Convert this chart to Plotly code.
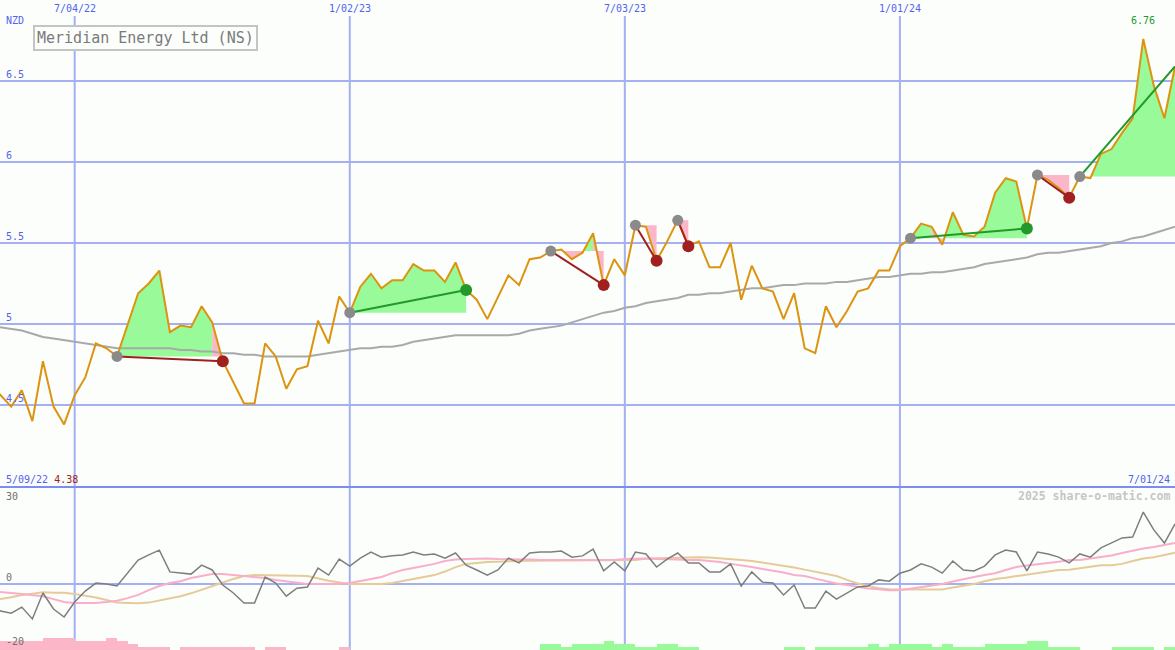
import pandas as pd
import plotly.graph_objects as go

# ---------------- data ----------------
start_date = "2022-05-09"          # first weekly close
view_start = "2022-05-15 14:00"
view_end = "2024-07-01"
title_text = "Meridian Energy Ltd (NS)"
currency = "NZD"

price = [4.62, 4.56, 4.49, 4.59, 4.40, 4.77, 4.49, 4.38, 4.56, 4.67,
         4.88, 4.85, 4.80, 5.00, 5.19, 5.25, 5.33, 4.95, 4.99, 4.98,
         5.11, 5.01, 4.77, 4.64, 4.51, 4.51, 4.88, 4.80, 4.60, 4.72,
         4.74, 5.02, 4.88, 5.17, 5.07, 5.23, 5.31, 5.22, 5.27, 5.27,
         5.37, 5.33, 5.33, 5.26, 5.38, 5.21, 5.15, 5.03, 5.17, 5.30,
         5.24, 5.40, 5.41, 5.45, 5.46, 5.40, 5.44, 5.56, 5.24, 5.40,
         5.30, 5.61, 5.60, 5.39, 5.51, 5.64, 5.48, 5.51, 5.35, 5.35,
         5.50, 5.15, 5.36, 5.22, 5.20, 5.03, 5.19, 4.85, 4.82, 5.11,
         4.98, 5.08, 5.20, 5.22, 5.33, 5.33, 5.48, 5.53, 5.62, 5.60,
         5.49, 5.69, 5.55, 5.54, 5.60, 5.81, 5.90, 5.88, 5.59, 5.92,
         5.89, 5.84, 5.78, 5.91, 5.90, 6.05, 6.08, 6.18, 6.27, 6.76,
         6.47, 6.27, 6.59]

moving_avg = [4.99, 4.98, 4.97, 4.96, 4.94, 4.92, 4.91, 4.90, 4.89, 4.88,
              4.87, 4.86, 4.85, 4.85, 4.85, 4.85, 4.85, 4.85, 4.84, 4.84,
              4.83, 4.83, 4.82, 4.82, 4.81, 4.81, 4.80, 4.80, 4.80, 4.80,
              4.80, 4.81, 4.82, 4.83, 4.84, 4.85, 4.85, 4.86, 4.86, 4.87,
              4.89, 4.90, 4.91, 4.92, 4.93, 4.93, 4.93, 4.93, 4.93, 4.93,
              4.94, 4.96, 4.97, 4.98, 4.99, 5.01, 5.03, 5.05, 5.07, 5.08,
              5.10, 5.11, 5.13, 5.14, 5.15, 5.16, 5.18, 5.18, 5.19, 5.19,
              5.20, 5.21, 5.22, 5.22, 5.23, 5.24, 5.24, 5.25, 5.25, 5.25,
              5.26, 5.26, 5.27, 5.28, 5.29, 5.29, 5.30, 5.31, 5.31, 5.32,
              5.32, 5.33, 5.34, 5.35, 5.37, 5.38, 5.39, 5.40, 5.41, 5.43,
              5.44, 5.44, 5.45, 5.46, 5.47, 5.48, 5.50, 5.51, 5.53, 5.54,
              5.56, 5.58, 5.60]

oscillator = [-6.6, -8.4, -9.1, -7.2, -10.9, -2.8, -7.8, -10.3, -5.6, -2.2,
              0.3, 0.0, -0.6, 3.4, 7.5, 9.1, 10.6, 3.8, 3.4, 3.1,
              5.9, 4.4, -0.3, -2.8, -5.9, -5.9, 2.2, 0.3, -3.8, -1.3,
              -0.9, 5.0, 2.8, 7.8, 5.6, 8.1, 10.0, 8.4, 8.8, 9.1,
              10.0, 9.1, 9.4, 8.1, 9.7, 5.9, 4.4, 2.8, 4.4, 8.1,
              6.6, 9.7, 10.0, 10.0, 10.3, 8.4, 8.8, 10.9, 4.1, 6.9,
              4.1, 10.0, 9.4, 5.3, 7.8, 9.7, 6.6, 6.6, 3.8, 3.8,
              6.3, -0.6, 3.8, 0.6, 0.3, -3.4, -0.3, -7.5, -7.5, -2.2,
              -4.7, -2.8, -0.9, -0.6, 1.3, 0.9, 3.4, 4.4, 6.3, 5.3,
              3.4, 7.2, 4.4, 4.1, 5.6, 9.1, 10.6, 10.0, 4.1, 10.0,
              9.4, 8.4, 6.6, 9.4, 8.4, 11.3, 12.8, 14.4, 14.7, 22.5,
              16.9, 12.8, 18.8]

osc_fast = [-2.2, -2.6, -2.8, -3.1, -3.4, -3.8, -4.7, -5.6, -5.9, -5.9,
            -5.9, -5.6, -5.2, -4.4, -3.4, -1.9, -0.6, 0.3, 0.9, 1.9,
            2.5, 3.1, 3.1, 2.8, 2.6, 2.2, 1.9, 1.3, 0.8, 0.3,
            0.0, 0.0, 0.0, 0.0, 0.3, 0.9, 1.6, 2.2, 3.4, 4.4,
            5.0, 5.6, 6.3, 7.2, 7.7, 7.8, 8.0, 8.0, 7.8, 7.8,
            7.8, 7.7, 7.5, 7.5, 7.5, 7.5, 7.5, 7.5, 7.5, 7.5,
            7.8, 8.0, 8.0, 7.8, 7.8, 7.7, 7.5, 7.5, 7.2, 6.9,
            6.3, 5.9, 5.3, 4.7, 4.2, 3.6, 2.8, 2.5, 1.7, 0.9,
            0.2, -0.3, -0.9, -1.4, -1.6, -1.9, -1.9, -1.4, -0.8, -0.5,
            0.0, 0.8, 1.6, 2.2, 2.8, 3.4, 4.4, 5.3, 5.8, 6.3,
            6.6, 7.0, 7.5, 7.5, 8.0, 8.4, 8.9, 9.7, 10.5, 11.1,
            11.6, 12.2, 12.8]

osc_slow = [-5.0, -4.7, -4.1, -3.4, -3.0, -2.6, -2.7, -2.7, -3.1, -3.6,
            -4.2, -5.0, -5.8, -5.9, -6.0, -5.8, -5.2, -4.5, -3.8, -2.9,
            -1.7, -0.6, 0.5, 1.6, 2.5, 2.8, 2.8, 2.8, 2.7, 2.6,
            2.5, 1.7, 1.0, 0.5, 0.0, 0.0, 0.0, 0.0, 0.3, 0.9,
            1.6, 2.2, 2.8, 3.9, 5.3, 6.3, 6.7, 6.9, 7.0, 7.2,
            7.2, 7.3, 7.3, 7.3, 7.5, 7.5, 7.5, 7.5, 7.5, 7.5,
            7.5, 7.5, 8.0, 8.1, 8.3, 8.4, 8.5, 8.4, 8.3, 8.1,
            7.8, 7.5, 7.2, 6.7, 6.3, 5.6, 5.2, 4.5, 3.8, 3.1,
            2.5, 1.3, 0.2, -0.6, -1.3, -1.6, -1.7, -1.7, -1.7, -1.7,
            -1.7, -1.1, -0.5, 0.0, 0.9, 1.6, 2.0, 2.5, 3.0, 3.4,
            3.9, 4.4, 4.5, 5.0, 5.6, 5.9, 5.9, 6.3, 7.2, 8.0,
            8.4, 9.1, 9.8]

signal_bars = [-3, -3, -3, -3, -3, -4, -4, -4, -3, -3,
               -3, -4, -3, -2, -1, -1, -1, 0, -1, -1,
               -1, -1, -1, -1, -1, 0, -1, -1, 0, 0,
               0, 0, 0, -1, 0, 0, 0, 0, 0, 0,
               0, 0, 0, 0, 0, 0, 0, 0, 0, 0,
               0, 0, 2, 2, 1, 2, 2, 2, 3, 2,
               2, 1, 1, 2, 2, 1, 1, 0, 0, 0,
               0, 0, 0, 0, 0, 1, 1, 0, 1, 1,
               1, 1, 1, 2, 1, 2, 2, 2, 2, 1,
               2, 1, 1, 1, 2, 2, 2, 2, 3, 3,
               1, 1, 1, 0, 0, 0, 1, 1, 1, 1,
               0, 1, 1]

trade_entry = [12, 34, 53, 61, 65, 87, 99, 103]
trade_exit = [22, 45, 58, 63, 66, 98, 102, 112]
trade_open = [False, False, False, False, False, False, False, True]

grid_dates = ["2022-07-04", "2023-01-02", "2023-07-03", "2024-01-01"]
grid_labels = ["7/04/22", "1/02/23", "7/03/23", "1/01/24"]
price_ticks = [4.5, 5.0, 5.5, 6.0, 6.5]
price_tick_labels = ["4.5", "5", "5.5", "6", "6.5"]
osc_ticks = [30, 0, -20]
osc_tick_labels = ["30", "0", "-20"]
watermark = "2025 share-o-matic.com"

# ---------------- styling ----------------
W, H = 1175, 650
BG = "#fbfefb"
GRID = "#a4b0f2"
DIVIDER = "#7d8cf0"
BLUE_TXT = "#5462ee"
MONO = "DejaVu Sans Mono"
GREEN_FILL = "#98fa98"
PINK_FILL = "#fbb6c8"
WIN = "#22992a"
LOSS = "#a02020"

dates = pd.date_range(start_date, periods=len(price), freq="7D")
week_ms = 7 * 24 * 3600 * 1000


def fmt(d):
    return f"{d.month}/{d.day:02d}/{d.year % 100:02d}"


fig = go.Figure()

# ---- lower panel: signal bars ----
fig.add_trace(go.Bar(
    x=dates, y=[abs(v) for v in signal_bars],
    marker=dict(color=[GREEN_FILL if v > 0 else PINK_FILL for v in signal_bars],
                line=dict(width=0)),
    offset=0, width=week_ms, xaxis="x", yaxis="y3", hoverinfo="skip"))

# ---- lower panel: oscillator lines ----
fig.add_trace(go.Scatter(x=dates, y=osc_slow, mode="lines",
                         line=dict(color="#e6cb98", width=2), yaxis="y2"))
fig.add_trace(go.Scatter(x=dates, y=osc_fast, mode="lines",
                         line=dict(color="#f9aecb", width=2), yaxis="y2"))
fig.add_trace(go.Scatter(x=dates, y=oscillator, mode="lines",
                         line=dict(color="#7e7e7e", width=1.5), yaxis="y2"))

# ---- upper panel: trade fills ----
gx, gy, rx, ry = [], [], [], []
for e, xk in zip(trade_entry, trade_exit):
    E = price[e]
    for k in range(e, xk):
        xs = [dates[k], dates[k], dates[k + 1], dates[k + 1], dates[k], None]
        ys = [E, price[k], price[k + 1], E, E, None]
        if price[k + 1] >= E:
            gx += xs
            gy += ys
        else:
            rx += xs
            ry += ys
fig.add_trace(go.Scatter(x=gx, y=gy, mode="lines", fill="toself",
                         fillcolor=GREEN_FILL, line=dict(width=0), hoverinfo="skip"))
fig.add_trace(go.Scatter(x=rx, y=ry, mode="lines", fill="toself",
                         fillcolor=PINK_FILL, line=dict(width=0), hoverinfo="skip"))

# ---- moving average and price ----
fig.add_trace(go.Scatter(x=dates, y=moving_avg, mode="lines",
                         line=dict(color="#a9a9a9", width=2)))
fig.add_trace(go.Scatter(x=dates, y=price, mode="lines",
                         line=dict(color="#dc9410", width=2)))

# ---- trade lines ----
wx, wy, lx, ly = [], [], [], []
for e, xk in zip(trade_entry, trade_exit):
    seg_x = [dates[e], dates[xk], None]
    seg_y = [price[e], price[xk], None]
    if price[xk] >= price[e]:
        wx += seg_x
        wy += seg_y
    else:
        lx += seg_x
        ly += seg_y
fig.add_trace(go.Scatter(x=wx, y=wy, mode="lines", line=dict(color=WIN, width=2)))
fig.add_trace(go.Scatter(x=lx, y=ly, mode="lines", line=dict(color=LOSS, width=2)))

# ---- entry / exit markers ----
fig.add_trace(go.Scatter(x=[dates[e] for e in trade_entry],
                         y=[price[e] for e in trade_entry], mode="markers",
                         marker=dict(color="#8a8a8a", size=11, line=dict(width=0))))
closed = [(e, xk) for e, xk, o in zip(trade_entry, trade_exit, trade_open) if not o]
fig.add_trace(go.Scatter(x=[dates[xk] for e, xk in closed],
                         y=[price[xk] for e, xk in closed], mode="markers",
                         marker=dict(color=[WIN if price[xk] >= price[e] else LOSS
                                            for e, xk in closed],
                                     size=12, line=dict(width=0))))

# ---------------- layout ----------------
top_h = 486
shapes = []
for d in grid_dates:
    shapes.append(dict(type="line", xref="x", yref="paper", x0=d, x1=d,
                       y0=0, y1=1 - 16 / H, line=dict(color=GRID, width=2),
                       layer="below"))
shapes.append(dict(type="line", xref="paper", yref="paper", x0=0, x1=1,
                   y0=1 - 487 / H, y1=1 - 487 / H,
                   line=dict(color=DIVIDER, width=2), layer="above"))

ann = []
ann.append(dict(text=currency, xref="paper", yref="paper", x=0, y=1 - 20 / H,
                xanchor="left", yanchor="middle", xshift=4, showarrow=False,
                font=dict(family=MONO, size=10, color=BLUE_TXT)))
for d, t in zip(grid_dates, grid_labels):
    ann.append(dict(text=t, xref="x", yref="paper", x=d, y=1 - 8 / H,
                    xanchor="center", yanchor="middle", showarrow=False,
                    font=dict(family=MONO, size=10, color=BLUE_TXT)))
for v, t in zip(price_ticks, price_tick_labels):
    ann.append(dict(text=t, xref="paper", yref="y", x=0, y=v,
                    xanchor="left", yanchor="bottom", xshift=4, yshift=-1,
                    showarrow=False, font=dict(family=MONO, size=10, color=BLUE_TXT)))
for v, t in zip(osc_ticks, osc_tick_labels):
    ann.append(dict(text=t, xref="paper", yref="y2", x=0, y=v,
                    xanchor="left", yanchor="top" if v == max(osc_ticks) else "bottom",
                    xshift=4, yshift=-1, showarrow=False,
                    font=dict(family=MONO, size=10, color="#707070")))

lo = min(price)
hi_i = max(range(len(price)), key=lambda i: price[i])
ann.append(dict(text=f"{fmt(dates[0])} <span style='color:{LOSS}'>{lo:.2f}</span>",
                xref="paper", yref="paper", x=0, y=1 - 479 / H, xanchor="left",
                yanchor="middle", xshift=4, showarrow=False,
                font=dict(family=MONO, size=10, color=BLUE_TXT)))
ann.append(dict(text=fmt(dates[-1]), xref="paper", yref="paper", x=1, y=1 - 479 / H,
                xanchor="right", yanchor="middle", xshift=-3, showarrow=False,
                font=dict(family=MONO, size=10, color=BLUE_TXT)))
ann.append(dict(text=f"<b>{watermark}</b>", xref="paper", yref="paper", x=1,
                y=1 - 496 / H, xanchor="right", yanchor="middle", xshift=-3,
                showarrow=False, font=dict(family=MONO, size=11.5, color="#c6c6c6")))
ann.append(dict(text=f"{price[hi_i]:.2f}", xref="x", yref="y", x=dates[hi_i],
                y=price[hi_i], xanchor="center", yanchor="bottom", yshift=11,
                showarrow=False, font=dict(family=MONO, size=10, color=WIN)))
ann.append(dict(text=title_text, xref="paper", yref="paper", x=33 / W, y=1 - 25 / H,
                xanchor="left", yanchor="top", showarrow=False, bgcolor=BG,
                bordercolor="#c4c4c4", borderwidth=2, borderpad=2,
                font=dict(family=MONO, size=15, color="#7a7a7a")))

fig.update_layout(
    width=W, height=H, margin=dict(l=0, r=0, t=0, b=0),
    paper_bgcolor=BG, plot_bgcolor=BG, showlegend=False,
    xaxis=dict(type="date", range=[view_start, view_end], domain=[0, 1],
               showgrid=False, showticklabels=False, zeroline=False,
               showline=False, ticks=""),
    yaxis=dict(domain=[1 - top_h / H, 1], range=[4.0, 7.0], tickvals=price_ticks,
               showticklabels=False, gridcolor=GRID, gridwidth=2, zeroline=False,
               ticks=""),
    yaxis2=dict(domain=[0, 162 / H], range=[-20.6, 30], tickvals=[0],
                showticklabels=False, gridcolor=GRID, gridwidth=2, zeroline=False,
                ticks=""),
    yaxis3=dict(overlaying="y2", range=[0, 54], visible=False),
    shapes=shapes, annotations=ann, bargap=0,
)

fig.write_html("out.html", config={"displayModeBar": False},
               post_script="document.body.style.margin='0';document.body.style.overflow='hidden';")
